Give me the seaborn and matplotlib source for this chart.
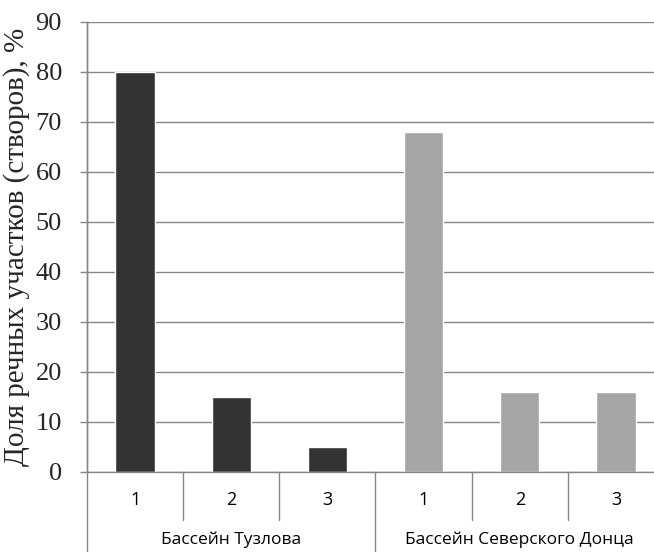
import matplotlib
matplotlib.use("Agg")
import matplotlib.pyplot as plt
import matplotlib.transforms as mtransforms
import seaborn as sns
import pandas as pd

# data
groups = ["Бассейн Тузлова", "Бассейн Северского Донца"]
classes = ["1", "2", "3"]
tuzlov = [80, 15, 5]
donets = [68, 16, 16]
ylabel = "Доля речных участков (створов), %"
yticks = list(range(0, 91, 10))

rows = []
for g, vals in zip(groups, [tuzlov, donets]):
    for c, v in zip(classes, vals):
        rows.append({"key": f"{g}|{c}", "group": g, "cls": c, "value": v})
df = pd.DataFrame(rows)

sns.set_style("white")
plt.rcParams["font.family"] = ["Liberation Serif", "DejaVu Serif"]

fig = plt.figure(figsize=(6.54, 5.52), dpi=100)
ax = fig.add_axes([87 / 654, 1 - 472 / 552, (664 - 87) / 654, 450 / 552])

sns.barplot(data=df, x="key", y="value", hue="group", order=list(df["key"]),
            palette=["#333333", "#a6a6a6"], dodge=False, width=0.41,
            saturation=1, legend=False, ax=ax)

ax.set_ylim(0, 90)
ax.set_xlim(-0.5, 5.5)
ax.set_yticks(yticks)
ax.set_yticklabels([str(t) for t in yticks], fontfamily="Liberation Serif", fontsize=19)
ax.yaxis.grid(True, color="#868686", linewidth=1)
ax.set_axisbelow(True)
for s in ["top", "right", "bottom"]:
    ax.spines[s].set_visible(False)
ax.spines["left"].set_color("#868686")
ax.spines["left"].set_linewidth(1)
ax.tick_params(axis="y", which="major", length=5, color="#868686", width=1,
               pad=13, left=True, labelfontfamily="Liberation Serif")

ax.set_xlabel("")
ax.set_ylabel(ylabel, fontsize=21, labelpad=4, family=["Liberation Serif"])
ax.set_xticks(range(6))
ax.set_xticklabels([])
ax.tick_params(axis="x", length=0)

trans = mtransforms.blended_transform_factory(ax.transData, ax.transAxes)
# baseline
ax.plot([-0.5, 5.5], [0, 0], transform=trans, color="#868686", lw=1, clip_on=False)
# separators
short = -48 / 450
long_ = -82 / 450
for x in [0.5, 1.5, 3.5, 4.5]:
    ax.plot([x, x], [0, short], transform=trans, color="#868686", lw=1, clip_on=False)
for x in [-0.5, 2.5, 5.5]:
    ax.plot([x, x], [1, long_] if x == -0.5 else [0, long_], transform=trans,
            color="#868686", lw=1, clip_on=False)

sans = ["Open Sans", "DejaVu Sans"]
for i, row in df.iterrows():
    ax.text(i, -28 / 450, row["cls"], transform=trans, ha="center", va="center",
            fontsize=13, family=sans, color="#000000")
for gi, g in enumerate(groups):
    ax.text(1 + 3 * gi, -68 / 450, g, transform=trans, ha="center", va="center",
            fontsize=12.5, family=sans, color="#000000")

fig.savefig("out.png", dpi=100)
